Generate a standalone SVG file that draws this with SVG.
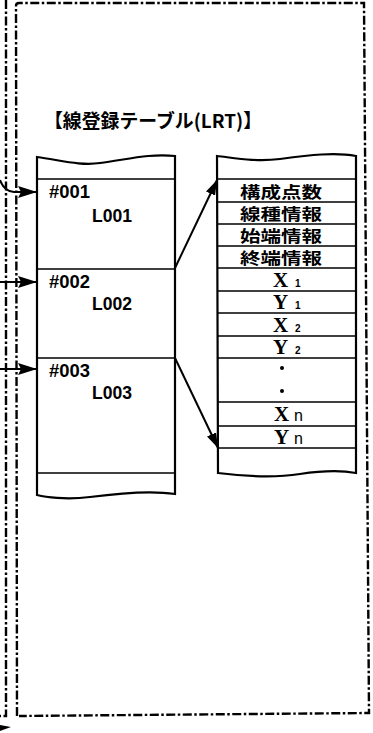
<svg xmlns="http://www.w3.org/2000/svg" width="373" height="733" viewBox="0 0 373 733">
<style>
.frame{fill:none;stroke:#000;stroke-width:2.4;stroke-dasharray:9 2.5 2.5 2.5}
.tbl{fill:#fff;stroke:#000;stroke-width:2.2}
.row{stroke:#000;stroke-width:1.7}
.con{fill:none;stroke:#000;stroke-width:2}
.jp{font-family:"Noto Sans CJK JP","Noto Sans",sans-serif;font-weight:bold;fill:#000}
.lat{font-family:"Liberation Sans",Arial,sans-serif;font-weight:bold;fill:#000}
.xy{font-family:"Liberation Serif","Times New Roman",serif;font-weight:bold;fill:#000}
.sub{font-family:"Liberation Sans",Arial,sans-serif;font-weight:bold}
</style>
<defs>
<marker id="ahL" viewBox="0 0 19 12" refX="19" refY="6" markerWidth="19" markerHeight="12" orient="auto" markerUnits="userSpaceOnUse"><path d="M0,0 L19,6 L0,12 L3,6 z" fill="#000"/></marker>
<marker id="ahS" viewBox="0 0 15 10" refX="15" refY="5" markerWidth="15" markerHeight="10" orient="auto" markerUnits="userSpaceOnUse"><path d="M0,0 L15,5 L0,10 z" fill="#000"/></marker>
</defs>
<rect width="373" height="733" fill="#fff"/>
<g id="frame">
<path class="frame" d="M6,0 L6,716 L0,716"/>
<path class="frame" d="M17,716 L16,6 Q16,3 19,3 L364,3 L369,713 L19,716"/>
<polygon points="0,725 11,727 0,731" fill="#000"/>
</g>
<g id="title">
<text class="jp" x="44" y="128" font-size="19" textLength="218" lengthAdjust="spacingAndGlyphs">【線登録テーブル(LRT)】</text>
</g>
<g id="lrt-table">
<path class="tbl" d="M37,157 C60,160 80,166 100,163 C125,160 150,153 175,156 L175,494 C150,490 120,493 90,497 C65,500 45,497 37,495 Z"/>
<line class="row" x1="37" y1="179" x2="175" y2="179"/>
<line class="row" x1="37" y1="269" x2="175" y2="269"/>
<line class="row" x1="37" y1="358" x2="175" y2="358"/>
<line class="row" x1="37" y1="473" x2="175" y2="473"/>
<text class="lat" x="49" y="198" font-size="18" textLength="41" lengthAdjust="spacingAndGlyphs">#001</text>
<text class="lat" x="92" y="222" font-size="18" textLength="40" lengthAdjust="spacingAndGlyphs">L001</text>
<text class="lat" x="49" y="288" font-size="18" textLength="41" lengthAdjust="spacingAndGlyphs">#002</text>
<text class="lat" x="92" y="310" font-size="18" textLength="40" lengthAdjust="spacingAndGlyphs">L002</text>
<text class="lat" x="49" y="377" font-size="18" textLength="41" lengthAdjust="spacingAndGlyphs">#003</text>
<text class="lat" x="92" y="399" font-size="18" textLength="40" lengthAdjust="spacingAndGlyphs">L003</text>
</g>
<g id="line-record">
<path class="tbl" d="M217,156 C235,158 255,162 280,159 C310,155 335,152 356,156 L356,473 C340,470 320,471 300,474 C280,477 250,477 218,473 Z"/>
<line class="row" x1="217" y1="179" x2="356" y2="179"/>
<line class="row" x1="217" y1="202" x2="356" y2="202"/>
<line class="row" x1="217" y1="224" x2="356" y2="224"/>
<line class="row" x1="217" y1="246" x2="356" y2="246"/>
<line class="row" x1="217" y1="268" x2="356" y2="268"/>
<line class="row" x1="217" y1="291" x2="356" y2="291"/>
<line class="row" x1="217" y1="313" x2="356" y2="313"/>
<line class="row" x1="217" y1="336" x2="356" y2="336"/>
<line class="row" x1="217" y1="358" x2="356" y2="358"/>
<line class="row" x1="217" y1="402" x2="356" y2="402"/>
<line class="row" x1="217" y1="426" x2="356" y2="426"/>
<line class="row" x1="217" y1="448" x2="356" y2="448"/>
<text class="jp" x="240" y="198" font-size="16" textLength="82" lengthAdjust="spacingAndGlyphs">構成点数</text>
<text class="jp" x="240" y="220" font-size="16" textLength="82" lengthAdjust="spacingAndGlyphs">線種情報</text>
<text class="jp" x="240" y="242" font-size="16" textLength="82" lengthAdjust="spacingAndGlyphs">始端情報</text>
<text class="jp" x="240" y="264" font-size="16" textLength="82" lengthAdjust="spacingAndGlyphs">終端情報</text>
<text class="xy" x="273" y="287" font-size="21">X<tspan class="sub" x="295" font-size="10">1</tspan></text>
<text class="xy" x="273" y="309" font-size="21">Y<tspan class="sub" x="295" font-size="10">1</tspan></text>
<text class="xy" x="273" y="332" font-size="21">X<tspan class="sub" x="295" font-size="10">2</tspan></text>
<text class="xy" x="273" y="354" font-size="21">Y<tspan class="sub" x="295" font-size="10">2</tspan></text>
<circle cx="282" cy="368" r="2" fill="#000"/>
<circle cx="282" cy="391" r="2" fill="#000"/>
<text class="xy" x="274" y="421" font-size="21">X<tspan x="294" font-size="16" font-family="Liberation Sans" font-weight="normal">n</tspan></text>
<text class="xy" x="274" y="444" font-size="21">Y<tspan x="294" font-size="16" font-family="Liberation Sans" font-weight="normal">n</tspan></text>
</g>
<g id="connectors">
<path class="con" d="M0,180 Q4,191 14,192 L37,192" marker-end="url(#ahL)"/>
<path class="con" d="M0,282 L37,282" marker-end="url(#ahL)"/>
<path class="con" d="M0,369 L37,369" marker-end="url(#ahL)"/>
<path class="con" d="M175,268 L217,180" marker-end="url(#ahS)"/>
<path class="con" d="M175,358 L218,448" marker-end="url(#ahS)"/>
</g>
</svg>
